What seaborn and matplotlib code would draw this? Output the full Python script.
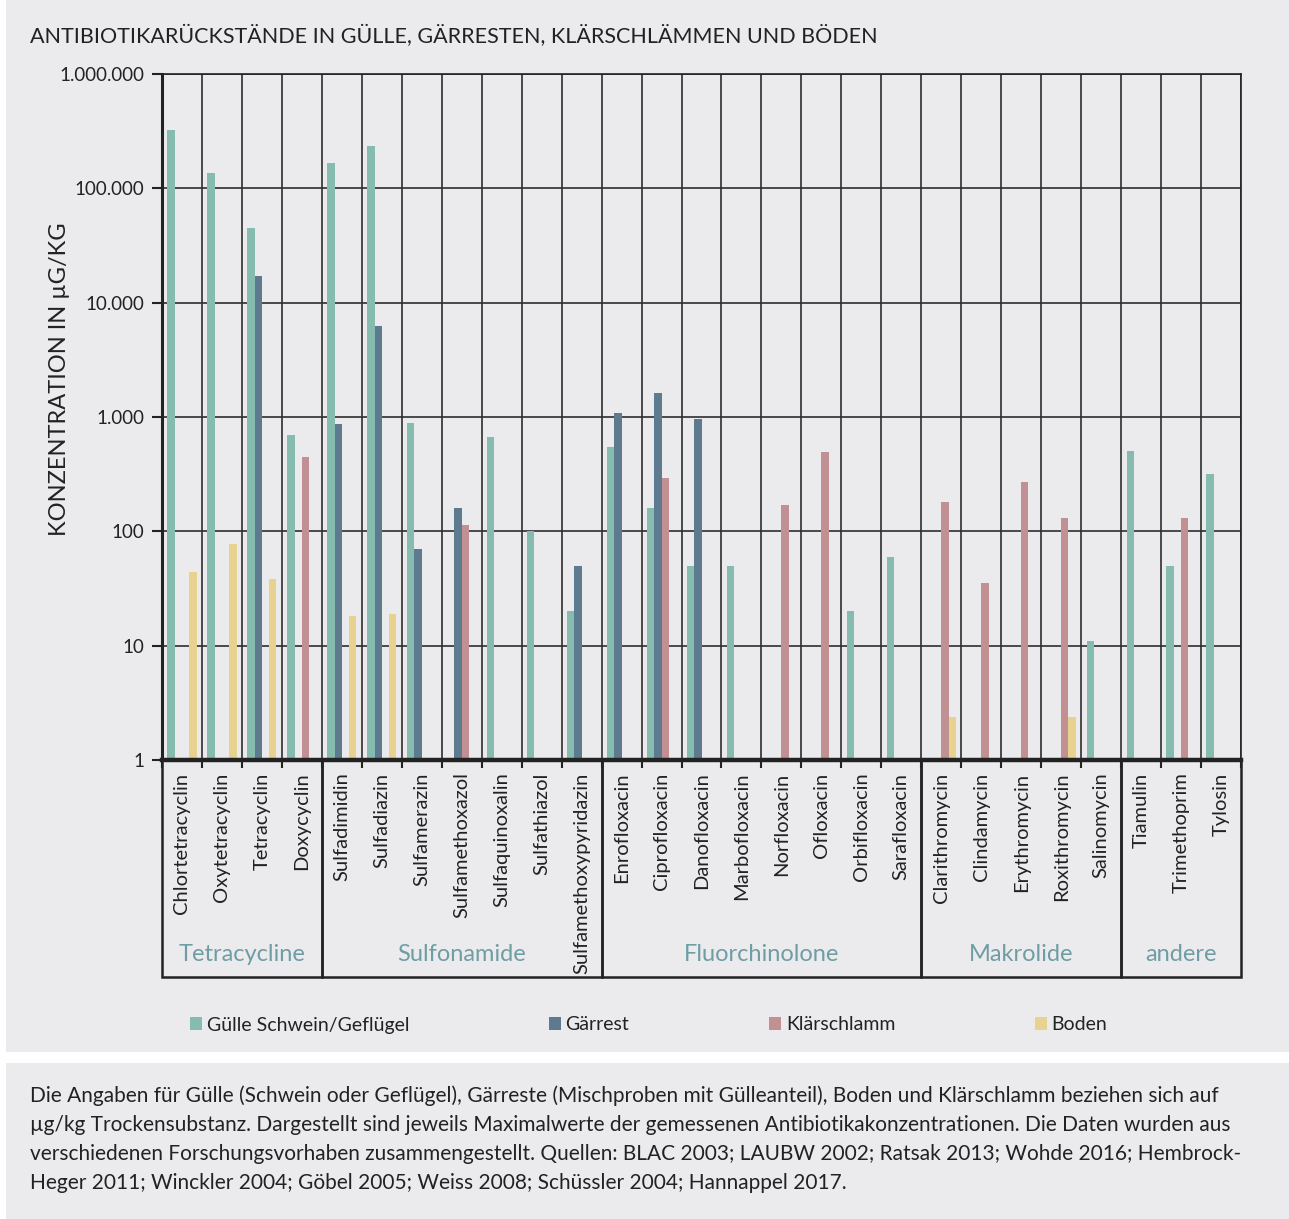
import numpy as np
import pandas as pd
import matplotlib
matplotlib.use("Agg")
import matplotlib.pyplot as plt
import seaborn as sns
from matplotlib.patches import Rectangle
from matplotlib.ticker import NullLocator

# ---- data -------------------------------------------------------------
antibiotics = [
    "Chlortetracyclin", "Oxytetracyclin", "Tetracyclin", "Doxycyclin",
    "Sulfadimidin", "Sulfadiazin", "Sulfamerazin", "Sulfamethoxazol",
    "Sulfaquinoxalin", "Sulfathiazol", "Sulfamethoxypyridazin",
    "Enrofloxacin", "Ciprofloxacin", "Danofloxacin", "Marbofloxacin",
    "Norfloxacin", "Ofloxacin", "Orbifloxacin", "Sarafloxacin",
    "Clarithromycin", "Clindamycin", "Erythromycin", "Roxithromycin",
    "Salinomycin",
    "Tiamulin", "Trimethoprim", "Tylosin",
]
groups = ["Tetracycline", "Sulfonamide", "Fluorchinolone", "Makrolide", "andere"]
group_sizes = [4, 7, 8, 5, 3]

series = ["Gülle Schwein/Geflügel", "Gärrest", "Klärschlamm", "Boden"]
nan = np.nan
guelle = [326000, 135000, 45000, 700, 165000, 233000, 890, nan, 670, 100, 20,
          550, 160, 50, 50, nan, nan, 20, 60,
          nan, nan, nan, nan, 11,
          500, 50, 320]
gaerrest = [nan, nan, 17000, nan, 870, 6200, 70, 160, nan, nan, 50,
            1080, 1610, 960, nan, nan, nan, nan, nan,
            nan, nan, nan, nan, nan,
            nan, nan, nan]
klaerschlamm = [nan, nan, nan, 450, nan, nan, nan, 113, nan, nan, nan,
                nan, 290, nan, nan, 170, 490, nan, nan,
                180, 35, 270, 130, nan,
                nan, 130, nan]
boden = [44, 78, 38, nan, 18, 19, nan, nan, nan, nan, nan,
         nan, nan, nan, nan, nan, nan, nan, nan,
         2.4, nan, nan, 2.4, nan,
         nan, nan, nan]

y_ticks = [1, 10, 100, 1000, 10000, 100000, 1000000]
y_ticklabels = ["1", "10", "100", "1.000", "10.000", "100.000", "1.000.000"]

title = "ANTIBIOTIKARÜCKSTÄNDE IN GÜLLE, GÄRRESTEN, KLÄRSCHLÄMMEN UND BÖDEN"
ylabel = "KONZENTRATION IN µG/KG"
caption_lines = [
    "Die Angaben für Gülle (Schwein oder Geflügel), Gärreste (Mischproben mit Gülleanteil), Boden und Klärschlamm beziehen sich auf",
    "µg/kg Trockensubstanz. Dargestellt sind jeweils Maximalwerte der gemessenen Antibiotikakonzentrationen. Die Daten wurden aus",
    "verschiedenen Forschungsvorhaben zusammengestellt. Quellen: BLAC 2003; LAUBW 2002; Ratsak 2013; Wohde 2016; Hembrock-",
    "Heger 2011; Winckler 2004; Göbel 2005; Weiss 2008; Schüssler 2004; Hannappel 2017.",
]

rows = []
for name, vals in zip(series, [guelle, gaerrest, klaerschlamm, boden]):
    for ab, v in zip(antibiotics, vals):
        rows.append((ab, name, v))
df = pd.DataFrame(rows, columns=["Antibiotikum", "Probe", "Konzentration"])

# ---- style ------------------------------------------------------------
sns.set_style("white")
plt.rcParams["font.family"] = ["Lato", "DejaVu Sans"]
BG = "#EBEBEE"
INK = "#222222"
GRID = "#2E2E2E"
GROUP_COL = "#6F9DA4"
palette = ["#86BBB0", "#5E7A8F", "#C09093", "#E8D290"]

W, H = 1289, 1219
def fx(px):
    return px / W
def fy(py):
    return 1 - py / H

fig = plt.figure(figsize=(W / 100, H / 100), dpi=100, facecolor="white")

# grey panels behind chart and caption
fig.add_artist(Rectangle((fx(6), fy(1052)), 1 - fx(6), fy(0) - fy(1052),
                         transform=fig.transFigure, facecolor=BG,
                         edgecolor="none", zorder=-10))
fig.add_artist(Rectangle((fx(6), fy(1219)), 1 - fx(6), fy(1063) - fy(1219),
                         transform=fig.transFigure, facecolor=BG,
                         edgecolor="none", zorder=-10))

# ---- main bar chart ---------------------------------------------------
ax = fig.add_axes([fx(162), fy(760), fx(1241) - fx(162), fy(74) - fy(760)])
ax.set_facecolor(BG)
ax.set_yscale("log")
sns.barplot(data=df, x="Antibiotikum", y="Konzentration", hue="Probe",
            order=antibiotics, hue_order=series, palette=palette,
            width=0.73, gap=0, errorbar=None, saturation=1,
            linewidth=0, ax=ax)

ax.set_xlim(-0.5, len(antibiotics) - 0.5)
ax.set_ylim(1, 1e6)
ax.set_yticks(y_ticks)
ax.set_yticklabels(y_ticklabels)
ax.yaxis.set_minor_locator(NullLocator())
ax.set_xlabel("")
ax.set_ylabel("")

ax.set_xticks(np.arange(len(antibiotics) + 1) - 0.5, minor=True)
ax.grid(which="minor", axis="x", color=GRID, lw=1.2)
ax.grid(which="major", axis="y", color=GRID, lw=1.2)
ax.grid(which="major", axis="x", visible=False)
ax.set_axisbelow(True)

ax.tick_params(axis="y", which="major", length=7, width=1.5, color=INK,
               labelsize=13.5, labelcolor=INK, pad=6, direction="out", left=True)
ax.tick_params(axis="x", which="major", length=0, pad=9, labelsize=14.5,
               labelcolor=INK, labelrotation=90)
ax.tick_params(axis="x", which="minor", length=6, width=1.5, color=INK,
               direction="out", bottom=True)
for lab in ax.get_xticklabels():
    lab.set_va("top")
    lab.set_ha("center")

for side, lw in [("left", 2.2), ("bottom", 3.2), ("top", 1.2), ("right", 1.2)]:
    ax.spines[side].set_visible(True)
    ax.spines[side].set_color(INK)
    ax.spines[side].set_linewidth(lw)

handles, labels = ax.get_legend_handles_labels()
if ax.get_legend() is not None:
    ax.get_legend().remove()

# ---- group boxes under the axis ----------------------------------------
ax2 = fig.add_axes([fx(162), fy(977), fx(1241) - fx(162), fy(760) - fy(977)])
ax2.set_xlim(-0.5, len(antibiotics) - 0.5)
ax2.set_ylim(0, 1)
ax2.axis("off")
start = 0
for gname, n in zip(groups, group_sizes):
    ax2.add_patch(Rectangle((start - 0.5, 0), n, 1, fill=False,
                            edgecolor=INK, lw=1.8, clip_on=False))
    ax2.text(start - 0.5 + n / 2, 0.105, gname, color=GROUP_COL,
             fontsize=17, ha="center", va="center")
    start += n

# ---- texts ------------------------------------------------------------
fig.text(fx(30), fy(36), title, fontsize=15.5, color=INK, ha="left", va="center")
fig.text(fx(60), fy(379), ylabel, fontsize=17, color=INK, rotation=90,
         ha="center", va="center")

fig.legend(handles, labels, loc="center left",
           bbox_to_anchor=(fx(190), fy(1025)), ncol=4, frameon=False,
           fontsize=14, handlelength=0.6, handleheight=0.6,
           handletextpad=0.25, columnspacing=7.2, borderaxespad=0,
           borderpad=0, labelcolor=INK)

for i, line in enumerate(caption_lines):
    fig.text(fx(30), fy(1096 + 29 * i), line, fontsize=15, color=INK,
             ha="left", va="center")

fig.savefig("out.png", dpi=100, facecolor="white")
